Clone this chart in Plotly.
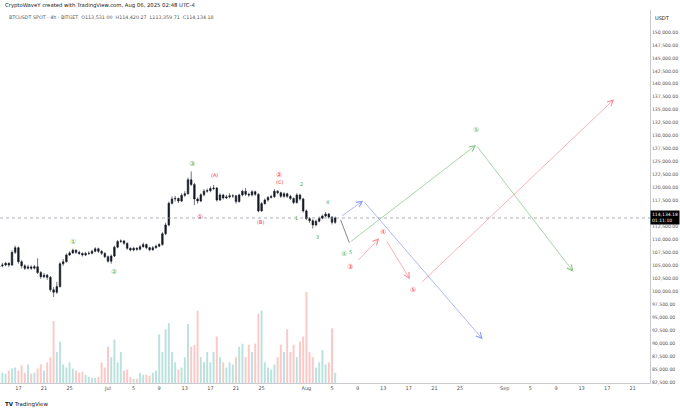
import pandas as pd
import plotly.graph_objects as go

# 12h candles, BTCUSDT (Bitget)
start_open = 104700
closes = [104900, 105060, 105380, 105060, 107500, 108400, 105700, 104900, 104420, 104700,
          104450, 104740, 103600, 102800, 103100, 102700, 100300, 99800, 100900, 105300,
          105700, 107000, 107400, 107900, 107500, 107300, 107000, 107300, 107320, 107700,
          108200, 107700, 107320, 106670, 105800, 106800, 108500, 109600, 109700, 109250,
          108280, 107960, 108280, 108100, 108600, 109000, 108400, 108000, 108400, 108700,
          109000, 111100, 112800, 116960, 117800, 117900, 117400, 118500, 118800, 121500,
          120600, 117800, 117400, 118600, 119300, 119400, 119800, 119900, 117600, 118570,
          118000, 118200, 118400, 118400, 117300, 118570, 119300, 118700, 118570, 119200,
          118700, 115500, 116900, 117600, 118100, 118250, 119300, 119000, 118300, 118800,
          118300, 117900, 117100, 118570, 117800, 115500, 114000, 113600, 112800, 113500,
          114100, 114500, 114900, 114300, 113300, 114134.18]
highs = [105300, 105500, 105700, 105600, 107900, 108800, 108600, 106000, 105200, 105100,
         105000, 105100, 106350, 103900, 103500, 103300, 102900, 100800, 101800, 105600,
         106200, 107300, 107700, 108200, 108100, 107800, 107500, 107600, 107700, 108000,
         108500, 108400, 107900, 107500, 106900, 107100, 108800, 109900, 110000, 109900,
         109400, 108500, 108600, 108500, 108900, 109400, 109200, 108600, 108700, 109000,
         109300, 111400, 113200, 117300, 118300, 118400, 118100, 118900, 119300, 121900,
         123100, 120900, 118100, 118900, 119700, 119800, 120200, 120500, 120100, 118900,
         118800, 118600, 118900, 118700, 118600, 118800, 119600, 119900, 119000, 119500,
         119400, 118900, 117200, 117900, 118400, 118600, 119700, 119500, 119200, 119100,
         119000, 118600, 118100, 118900, 118800, 118000, 115800, 114300, 113900, 113800,
         114400, 114800, 115300, 115100, 114500, 114420.27]
lows = [104300, 104600, 104800, 104700, 104900, 107200, 105300, 104400, 104100, 104200,
        104100, 104200, 103300, 102400, 102500, 102200, 99900, 98900, 99500, 100700,
        104900, 105500, 106800, 107200, 107200, 107000, 106700, 106800, 107000, 107100,
        107500, 107400, 107000, 106400, 105500, 105300, 106600, 108300, 109300, 108900,
        108000, 107700, 107700, 107800, 107900, 108400, 108100, 107700, 107800, 108200,
        108500, 108800, 110800, 112500, 116700, 117300, 117000, 117200, 118200, 118600,
        120300, 116600, 116900, 117200, 118300, 119000, 119100, 119500, 117300, 117400,
        117700, 117800, 117900, 118000, 116900, 117100, 118300, 118400, 118200, 118300,
        118400, 115200, 115300, 116700, 117300, 117900, 118000, 118700, 118000, 118000,
        118000, 117600, 116800, 116900, 117500, 115200, 113700, 113200, 112100, 112500,
        113300, 113900, 114300, 114000, 112900, 113000]
volumes = [8, 10, 9, 12, 14, 15, 12, 17, 10, 18,
           9, 10, 14, 18, 12, 20, 25, 60, 30, 40,
           18, 15, 20, 14, 12, 10, 11, 8, 6, 5,
           5, 6, 20, 15, 35, 25, 42, 20, 30, 12,
           13, 6, 4, 4, 10, 8, 8, 7, 10, 12,
           47, 30, 52, 58, 30, 20, 13, 15, 25, 57,
           35, 37, 70, 25, 20, 30, 20, 30, 45, 25,
           20, 15, 20, 18, 25, 35, 38, 25, 37, 30,
           38, 67, 70, 20, 15, 13, 18, 25, 37, 30,
           52, 30, 37, 25, 40, 45, 88, 30, 25, 15,
           20, 32, 18, 20, 53, 10]

dates = pd.date_range("2025-06-14 00:00", periods=len(closes), freq="12h")
opens = [start_open] + closes[:-1]
last_price = closes[-1]

# wave projections (dates, prices)
gray_d = ["2025-08-06 06:00", "2025-08-07 17:00"]
gray_p = [114070, 109364]
green_d = ["2025-08-07 17:00", "2025-08-27 12:00", "2025-09-11 17:00"]
green_p = [109364, 128207, 103771]
blue_d = ["2025-08-06 09:00", "2025-08-09 21:00", "2025-08-28 13:00"]
blue_p = [114378, 117465, 90735]
red_segments = [
    (["2025-08-08 21:00", "2025-08-12 09:00"], [105700, 110213]),
    (["2025-08-13 10:30", "2025-08-17 04:30"], [109885, 102305]),
    (["2025-08-18 20:30", "2025-09-18 01:30"], [101534, 137020]),
]

# wave count labels
GREEN = "#4caf50"
RED = "#f23645"
wave_labels = [
    ("①", "2025-06-25 12:00", 109557, GREEN, 7),
    ("②", "2025-07-01 22:00", 103772, GREEN, 7),
    ("③", "2025-07-14 02:00", 124543, GREEN, 7),
    ("(A)", "2025-07-17 17:00", 122421, RED, 5),
    ("①", "2025-07-15 09:00", 114378, RED, 7),
    ("②", "2025-07-27 18:00", 122421, RED, 7),
    ("(C)", "2025-07-27 18:00", 121071, RED, 5),
    ("(B)", "2025-07-24 20:00", 113414, RED, 5),
    ("2", "2025-07-31 06:00", 120628, GREEN, 5),
    ("1", "2025-07-30 11:00", 114186, GREEN, 5),
    ("4", "2025-08-04 08:00", 117156, GREEN, 5),
    ("3", "2025-08-02 17:00", 110522, GREEN, 5),
    ("④", "2025-08-06 22:00", 107185, GREEN, 7),
    ("5", "2025-08-07 19:30", 107600, GREEN, 5),
    ("③", "2025-08-07 19:30", 104736, RED, 7),
    ("④", "2025-08-13 00:30", 111370, RED, 7),
    ("⑤", "2025-08-17 14:00", 100319, RED, 7),
    ("⑤", "2025-08-27 12:00", 131100, GREEN, 7),
]

tick_dates = ["2025-06-17", "2025-06-21", "2025-06-25", "2025-07-01", "2025-07-05", "2025-07-09",
              "2025-07-13", "2025-07-17", "2025-07-21", "2025-07-25", "2025-08-01", "2025-08-05",
              "2025-08-09", "2025-08-13", "2025-08-17", "2025-08-21", "2025-08-25", "2025-09-01",
              "2025-09-05", "2025-09-09", "2025-09-13", "2025-09-17", "2025-09-21"]
tick_text = ["17", "21", "25", "Jul", "5", "9", "13", "17", "21", "25", "Aug", "5",
             "9", "13", "17", "21", "25", "Sep", "5", "9", "13", "17", "21"]
price_ticks = list(range(82500, 150001, 2500))

FONT = "DejaVu Sans"

fig = go.Figure()

# volume (overlay, bottom)
vol_colors = ["rgba(38,166,154,0.32)" if c >= o else "rgba(239,83,80,0.32)"
              for o, c in zip(opens, closes)]
fig.add_trace(go.Bar(x=dates, y=volumes, marker_color=vol_colors, marker_line_width=0,
                     width=12 * 3600 * 1000 * 0.6, yaxis="y2", hoverinfo="skip"))

fig.add_trace(go.Candlestick(
    x=dates, open=opens, high=highs, low=lows, close=closes,
    increasing=dict(line=dict(color="#131722", width=0.6), fillcolor="#131722"),
    decreasing=dict(line=dict(color="#131722", width=0.6), fillcolor="#131722"),
    whiskerwidth=0, yaxis="y"))

# projection lines
def arrow(d0, p0, d1, p1, color, head=True):
    fig.add_annotation(x=d1, y=p1, ax=d0, ay=p0, xref="x", yref="y", axref="x", ayref="y",
                       text="", showarrow=True, arrowhead=5 if head else 0,
                       arrowsize=1.6, arrowwidth=0.7, arrowcolor=color, standoff=0)

arrow(gray_d[0], gray_p[0], gray_d[1], gray_p[1], "#555555", head=False)
for i in range(len(green_d) - 1):
    arrow(green_d[i], green_p[i], green_d[i + 1], green_p[i + 1], "rgba(76,175,80,0.7)")
for i in range(len(blue_d) - 1):
    arrow(blue_d[i], blue_p[i], blue_d[i + 1], blue_p[i + 1], "rgba(80,100,240,0.65)")
for d, p in red_segments:
    arrow(d[0], p[0], d[1], p[1], "rgba(242,54,69,0.55)")

for txt, d, p, col, sz in wave_labels:
    fig.add_annotation(x=d, y=p, xref="x", yref="y", text=txt, showarrow=False,
                       font=dict(family=FONT, size=sz, color=col))

# last price line + label
fig.add_shape(type="line", xref="paper", x0=0, x1=1, yref="y", y0=last_price, y1=last_price,
              line=dict(color="#9598a1", width=0.8, dash="dot"))
fig.add_annotation(xref="paper", x=1.0, y=last_price, yref="y", xanchor="left", yanchor="middle",
                   text=f"{last_price:,.2f}<br>01:11:10", showarrow=False, align="left",
                   bgcolor="#000000", borderpad=1,
                   font=dict(family=FONT, size=4.5, color="white"))

# header texts
fig.add_annotation(xref="paper", yref="paper", x=0.004, y=1.012, xanchor="left", yanchor="middle",
                   text="CryptoWaveY created with TradingView.com, Aug 06, 2025 02:48 UTC-4",
                   showarrow=False, font=dict(family=FONT, size=5.3, color="#131722"))
fig.add_annotation(xref="paper", yref="paper", x=0.01, y=0.979, xanchor="left", yanchor="middle",
                   text="BTCUSDT SPOT · 4h · BITGET  O113,531.00  H114,420.27  L113,359.71  C114,134.18",
                   showarrow=False, font=dict(family=FONT, size=4.8, color="#555"))
fig.add_annotation(xref="paper", yref="paper", x=1.004, y=0.979, xanchor="left", yanchor="middle",
                   text="USDT", showarrow=False, font=dict(family=FONT, size=5, color="#131722"))
fig.add_annotation(xref="paper", yref="paper", x=0.004, y=-0.058, xanchor="left", yanchor="middle",
                   text="<b>TV</b> TradingView", showarrow=False,
                   font=dict(family=FONT, size=5.5, color="#131722"))

fig.update_layout(
    width=680, height=412,
    margin=dict(l=0, r=30, t=10, b=29),
    paper_bgcolor="white", plot_bgcolor="white",
    showlegend=False,
    xaxis=dict(type="date", range=["2025-06-14 03:00", "2025-09-23 16:30"],
               tickvals=tick_dates, ticktext=tick_text, showgrid=False,
               showline=True, linecolor="#c8cad0", linewidth=1, ticks="",
               tickfont=dict(family=FONT, size=5, color="#555"),
               rangeslider=dict(visible=False), zeroline=False),
    yaxis=dict(side="right", range=[82306, 154243], tickvals=price_ticks,
               tickformat=",.2f", showgrid=False, showline=True, linecolor="#c8cad0",
               linewidth=1, ticks="", zeroline=False,
               tickfont=dict(family=FONT, size=4.6, color="#555")),
    yaxis2=dict(overlaying="y", range=[0, 88 * 4.1], visible=False, showgrid=False),
)

# page body has a default 8px margin; drop it so the figure fills the window
fig.write_html("out.html", config={"displayModeBar": False},
               post_script="document.body.style.margin = '0';")
